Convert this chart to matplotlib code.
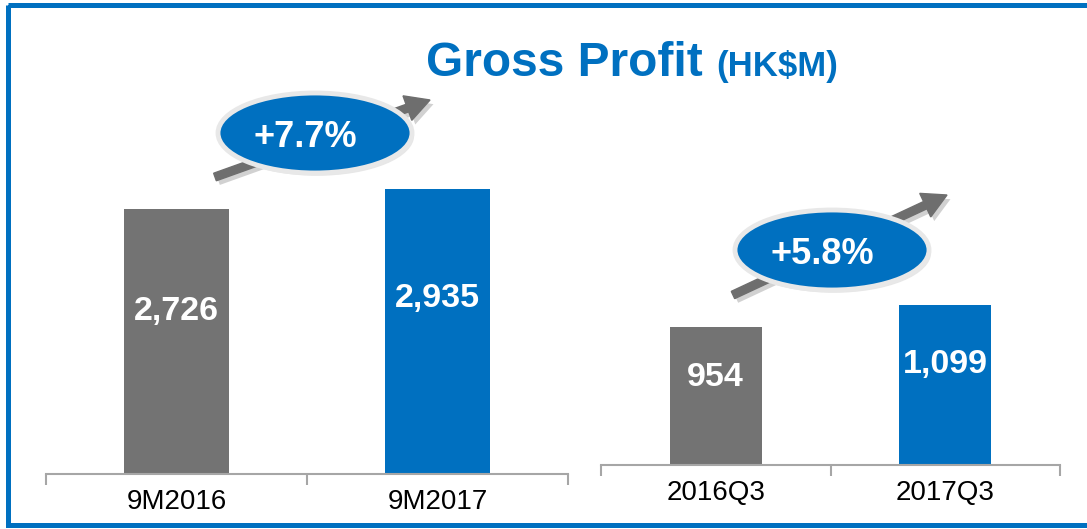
import matplotlib
matplotlib.use("Agg")
import matplotlib.pyplot as plt
import matplotlib.patheffects as pe
from matplotlib.patches import Ellipse, FancyArrow, Rectangle

plt.rcParams["font.family"] = ["Liberation Sans", "DejaVu Sans"]

# ── Colors ────────────────────────────────────────────────────────────────────
BLUE = "#0070C0"
GRAY = "#737373"
ARROW = "#6E6E6E"
AXIS = "#A6A6A6"
RING = "#E8E8E8"

# ── Data ──────────────────────────────────────────────────────────────────────
period_labels = ["9M2016", "9M2017"]
period_values = [2726, 2935]
quarter_labels = ["2016Q3", "2017Q3"]
quarter_values = [954, 1099]
growth_labels = ["+7.7%", "+5.8%"]
bar_colors = [GRAY, BLUE]

W, H = 1087, 529
fig = plt.figure(figsize=(W / 100, H / 100), dpi=100)
fig.patch.set_facecolor("white")


def px_axes(x0, x1, y_bottom, y_top):
    return fig.add_axes([x0 / W, 1 - y_bottom / H, (x1 - x0) / W, (y_bottom - y_top) / H])


def draw_panel(ax, labels, values, ymax, label_frac):
    x = list(range(len(values)))
    bars = ax.bar(x, values, width=0.4, color=bar_colors, zorder=2)
    ax.set_xlim(-0.5, len(values) - 0.5)
    ax.set_ylim(0, ymax)
    for s in ("top", "right", "left"):
        ax.spines[s].set_visible(False)
    ax.spines["bottom"].set_color(AXIS)
    ax.spines["bottom"].set_linewidth(1.5)
    ax.set_yticks([])
    ax.set_xticks(x)
    ax.set_xticklabels(labels, fontsize=20, color="black")
    ax.tick_params(axis="x", which="major", length=0, pad=11)
    ax.set_xticks([i - 0.5 for i in range(len(values) + 1)], minor=True)
    ax.tick_params(axis="x", which="minor", length=8, width=1.5, color=AXIS,
                   direction="out")
    ax.patch.set_alpha(0)
    for b, v in zip(bars, values):
        ax.text(b.get_x() + b.get_width() / 2, v * label_frac, f"{v:,}",
                ha="center", va="center", color="white", fontsize=24.5,
                fontweight="bold", zorder=3)


left = px_axes(46, 568, 474, 60)
draw_panel(left, period_labels, period_values, 4260, 0.615)
right = px_axes(601, 1060, 465, 60)
draw_panel(right, quarter_labels, quarter_values, 2790, 0.63)

# ── Overlay in pixel coordinates ─────────────────────────────────────────────
ov = fig.add_axes([0, 0, 1, 1])
ov.set_xlim(0, W)
ov.set_ylim(H, 0)
ov.axis("off")
ov.patch.set_alpha(0)

# border
ov.add_patch(Rectangle((7.5, 5), 1100, 519.5, fill=False, edgecolor=BLUE,
                       linewidth=3.6, clip_on=False))

# title
ov.text(426, 76, "Gross Profit", fontsize=34.5, fontweight="bold", color=BLUE,
        va="baseline", ha="left")
ov.text(716, 76, "(HK$M)", fontsize=25, fontweight="bold", color=BLUE,
        va="baseline", ha="left")

# growth badges: (arrow tail, arrow tip, ellipse centre)
badges = [((215, 177), (430, 100), (315, 133)),
          ((733, 295), (947, 195), (832, 250))]
shadow = [pe.SimplePatchShadow(offset=(2.5, -3), shadow_rgbFace="#999999", alpha=0.45),
          pe.Normal()]
for (tail, tip, c), lbl in zip(badges, growth_labels):
    arr = FancyArrow(tail[0], tail[1], tip[0] - tail[0], tip[1] - tail[1],
                     width=8, head_width=26, head_length=24,
                     length_includes_head=True, color=ARROW, zorder=2)
    arr.set_path_effects(shadow)
    ov.add_patch(arr)
    ell = Ellipse(c, 194, 80, facecolor=BLUE, edgecolor=RING, linewidth=3.5,
                  zorder=3)
    ell.set_path_effects([pe.SimplePatchShadow(offset=(1.5, -2), shadow_rgbFace="#bbbbbb",
                                               alpha=0.35), pe.Normal()])
    ov.add_patch(ell)
    ov.text(c[0] - 10, c[1] + 14, lbl, ha="center", va="baseline", color="white",
            fontsize=26, fontweight="bold", zorder=4)

fig.savefig("out.png", dpi=100, facecolor="white")
